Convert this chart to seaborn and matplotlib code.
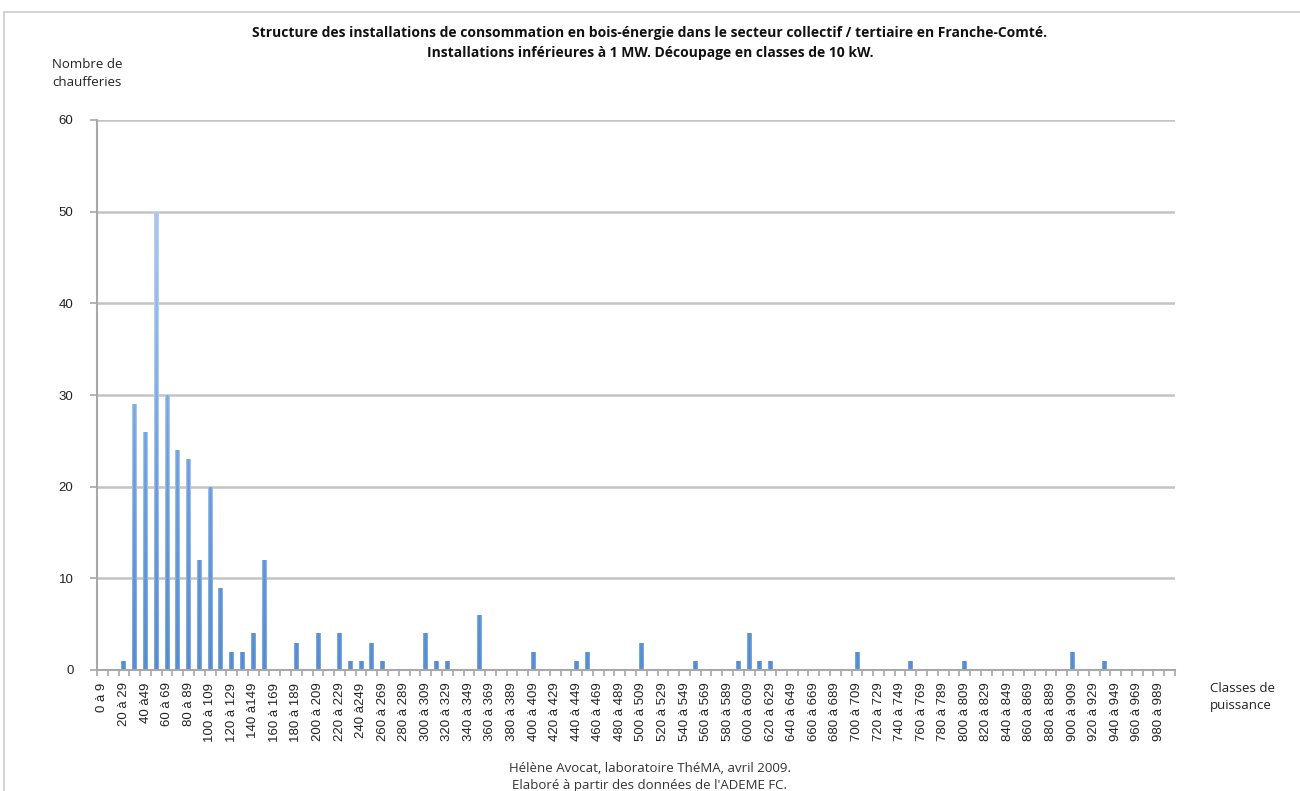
import numpy as np
import pandas as pd
import matplotlib
matplotlib.use("Agg")
import matplotlib.pyplot as plt
import seaborn as sns
from matplotlib.colors import LinearSegmentedColormap

# ---- data ----
class_labels = [
    "0 à 9", "10 à 19", "20 à 29", "30 à 39", "40 à49", "50 à 59", "60 à 69", "70 à 79", "80 à 89", "90 à 99",
    "100 à 109", "110 à 119", "120 à 129", "130 à 139", "140 à149", "150 à 159", "160 à 169", "170 à 179", "180 à 189", "190 à 199",
    "200 à 209", "210 à 219", "220 à 229", "230 à 239", "240 à249", "250 à 259", "260 à 269", "270 à 279", "280 à 289", "290 à 299",
    "300 à 309", "310 à 319", "320 à 329", "330 à 339", "340 à 349", "350 à 359", "360 à 369", "370 à 379", "380 à 389", "390 à 399",
    "400 à 409", "410 à 419", "420 à 429", "430 à 439", "440 à 449", "450 à 459", "460 à 469", "470 à 479", "480 à 489", "490 à 499",
    "500 à 509", "510 à 519", "520 à 529", "530 à 539", "540 à 549", "550 à 559", "560 à 569", "570 à 579", "580 à 589", "590 à 599",
    "600 à 609", "610 à 619", "620 à 629", "630 à 639", "640 à 649", "650 à 659", "660 à 669", "670 à 679", "680 à 689", "690 à 699",
    "700 à 709", "710 à 719", "720 à 729", "730 à 739", "740 à 749", "750 à 759", "760 à 769", "770 à 779", "780 à 789", "790 à 799",
    "800 à 809", "810 à 819", "820 à 829", "830 à 839", "840 à 849", "850 à 859", "860 à 869", "870 à 879", "880 à 889", "890 à 899",
    "900 à 909", "910 à 919", "920 à 929", "930 à 939", "940 à 949", "950 à 959", "960 à 969", "970 à 979", "980 à 989", "990 à 999",
]
counts = [
    0, 0, 1, 29, 26, 50, 30, 24, 23, 12,
    20, 9, 2, 2, 4, 12, 0, 0, 3, 0,
    4, 0, 4, 1, 1, 3, 1, 0, 0, 0,
    4, 1, 1, 0, 0, 6, 0, 0, 0, 0,
    2, 0, 0, 0, 1, 2, 0, 0, 0, 0,
    3, 0, 0, 0, 0, 1, 0, 0, 0, 1,
    4, 1, 1, 0, 0, 0, 0, 0, 0, 0,
    2, 0, 0, 0, 0, 1, 0, 0, 0, 0,
    1, 0, 0, 0, 0, 0, 0, 0, 0, 0,
    2, 0, 0, 1, 0, 0, 0, 0, 0, 0,
]
y_ticks = [0, 10, 20, 30, 40, 50, 60]

title = ("Structure des installations de consommation en bois-énergie dans le secteur collectif / tertiaire en Franche-Comté.\n"
         "Installations inférieures à 1 MW. Découpage en classes de 10 kW.")
ylabel = "Nombre de\nchaufferies"
xlabel = "Classes de\npuissance"
footer = "Hélène Avocat, laboratoire ThéMA, avril 2009.\nElaboré à partir des données de l'ADEME FC."

df = pd.DataFrame({"classe": class_labels, "n": counts})

sns.set_theme(style="white")
plt.rcParams["font.family"] = ["Open Sans", "DejaVu Sans"]

fig = plt.figure(figsize=(13, 7.91), dpi=100)
ax = fig.add_axes([97 / 1300, 1 - 670 / 791, (1175 - 97) / 1300, (670 - 120) / 791])

sns.barplot(data=df, x="classe", y="n", order=class_labels, color="#6b9bd6",
            width=0.46, saturation=1, ax=ax, edgecolor="none")

ax.set_xlim(-0.5, len(class_labels) - 0.5)
ax.set_ylim(0, 60)

# gradient fill for bars (darker at the bottom and centre, lighter at the top and edges)
cmap = LinearSegmentedColormap.from_list("bar", ["#4a82c6", "#6e9fdc", "#b4cff0"])
nx, ny = 11, 200
xx = np.linspace(-1, 1, nx)
yy = np.linspace(0, 1, ny)[:, None]
edge = np.abs(xx)[None, :] ** 2
for p in ax.patches:
    h = p.get_height()
    if h <= 0:
        continue
    x0, w = p.get_x(), p.get_width()
    vfrac = (yy * h) / 60.0
    grad = np.clip(0.12 + 0.9 * vfrac + 0.55 * edge, 0, 1)
    im = ax.imshow(grad, cmap=cmap, vmin=0, vmax=1, origin="lower", aspect="auto",
                   extent=[x0, x0 + w, 0, h], interpolation="bilinear", zorder=p.get_zorder())
    im.set_clip_path(p)
    p.set_facecolor("none")

ax.set_xlim(-0.5, len(class_labels) - 0.5)
ax.set_ylim(0, 60)
ax.set_yticks(y_ticks)
ax.set_yticklabels([str(v) for v in y_ticks], fontsize=9.5, family=["Liberation Sans", "DejaVu Sans"], color="#222222")
ax.yaxis.grid(True, color="#c4c4c4", linewidth=1.8)
ax.set_axisbelow(True)

shown = list(range(0, len(class_labels), 2))
ax.set_xticks(shown)
ax.set_xticklabels([class_labels[i] for i in shown], rotation=90, fontsize=9.5,
                   family=["Liberation Sans", "DejaVu Sans"], color="#222222")
ax.tick_params(axis="x", which="major", length=0, pad=9)
ax.set_xticks(np.arange(-0.5, len(class_labels), 1), minor=True)
ax.tick_params(axis="x", which="minor", length=4, width=1.2, color="#a8a8a8", direction="out", bottom=True)
ax.tick_params(axis="y", length=5, width=1.2, color="#a8a8a8", direction="out", left=True, pad=12)
ax.set_xlabel("")
ax.set_ylabel("")

for s in ["top", "right"]:
    ax.spines[s].set_visible(False)
for s in ["left", "bottom"]:
    ax.spines[s].set_color("#a8a8a8")
    ax.spines[s].set_linewidth(1.5)

fig.text(0.5, 1 - 43 / 791, title, ha="center", va="center", fontsize=10, fontweight="bold",
         linespacing=1.5, color="#111111")
fig.text(52 / 1300, 1 - 73 / 791, ylabel, ha="left", va="center", fontsize=9.5, linespacing=1.5, color="#222222")
fig.text(1210 / 1300, 1 - 697 / 791, xlabel, ha="left", va="center", fontsize=9.5, linespacing=1.5, color="#222222")
fig.text(0.5, 1 - 777 / 791, footer, ha="center", va="center", fontsize=9.5, linespacing=1.4, color="#333333")

# frame lines of the screenshot
fig.add_artist(plt.Line2D([0.003, 1.0], [1 - 12 / 791, 1 - 12 / 791], color="#cccccc", linewidth=1.2))
fig.add_artist(plt.Line2D([0.003, 0.003], [0, 1 - 12 / 791], color="#cccccc", linewidth=1.2))

fig.savefig("out.png", dpi=100)
